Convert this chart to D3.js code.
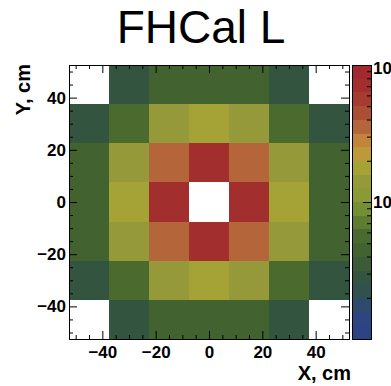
<!DOCTYPE html>
<html>
<head>
<meta charset="utf-8">
<script src="https://cdn.jsdelivr.net/npm/d3@7"></script>
<style>
  body { margin: 0; background: #fff; }
  svg { display: block; font-family: 'Liberation Sans', Arial, sans-serif; }
</style>
</head>
<body>
<script>
// bin edges (cm) and cell contents, top row first
const xEdges = [-52.5, -37.5, -22.5, -7.5, 7.5, 22.5, 37.5, 52.5];
const yEdges = [52.5, 37.5, 22.5, 7.5, -7.5, -22.5, -37.5, -52.5];
const counts = [
    [null,  28,  40,  40,  40,  28, null],
    [  28,  52, 150, 175, 130,  52,   28],
    [  40, 130, 360, 750, 360, 130,   40],
    [  40, 170, 750, null, 750, 170,  40],
    [  40, 130, 360, 750, 360, 130,   40],
    [  28,  52, 150, 175, 130,  52,   28],
    [null,  28,  40,  40,  40,  28, null]
];
const xTicks = [-40, -20, 0, 20, 40];
const yTicks = [-40, -20, 0, 20, 40];
const minorTicks = d3.range(-50, 51, 5).filter(v => v % 20 !== 0);
const zRange = [10, 1000];
const zMajor = [10, 100, 1000];
const zLabelled = [100, 1000];
const zMinor = [20, 30, 40, 50, 60, 70, 80, 90, 200, 300, 400, 500, 600, 700, 800, 900];

// 20 contour colours, lowest first
const palette = [
    '#2d4484', '#2e4680', '#2f4b6c', '#31514e', '#33553f',
    '#3b5c36', '#42622f', '#4b6b2e', '#5f7d30', '#768f32',
    '#8a9a35', '#96993a', '#a6a336', '#bb9a3a', '#c2843c',
    '#b4663a', '#ab4f34', '#a63b30', '#a32e2e', '#a2292d'
];

const W = 391, H = 386;
const frame = { left: 69, right: 349, top: 65, bottom: 339 };
const bar = { left: 352, right: 371 };

const svg = d3.select('body').append('svg')
    .attr('width', W)
    .attr('height', H);

const x = d3.scaleLinear().domain([xEdges[0], xEdges[xEdges.length - 1]]).range([frame.left, frame.right]);
const y = d3.scaleLinear().domain([yEdges[yEdges.length - 1], yEdges[0]]).range([frame.bottom, frame.top]);
const zNorm = d3.scaleLog().domain(zRange).range([0, palette.length]);
const zPos = d3.scaleLog().domain(zRange).range([frame.bottom, frame.top]);

const colorOf = v => palette[Math.max(0, Math.min(palette.length - 1, Math.floor(zNorm(v))))];

// cells
const cells = [];
counts.forEach((row, r) => row.forEach((v, c) => {
    if (v != null) cells.push({ r, c, v });
}));

svg.append('g')
    .selectAll('rect')
    .data(cells)
    .enter()
    .append('rect')
        .attr('x', d => x(xEdges[d.c]))
        .attr('y', d => y(yEdges[d.r]))
        .attr('width', d => x(xEdges[d.c + 1]) - x(xEdges[d.c]))
        .attr('height', d => y(yEdges[d.r + 1]) - y(yEdges[d.r]))
        .attr('fill', d => colorOf(d.v))
        .attr('shape-rendering', 'crispEdges');

// axes, ROOT style: ticks pointing inwards on all four sides
function styleAxis(g) {
    g.selectAll('text')
        .attr('font-size', '17px')
        .attr('font-weight', 'bold')
        .attr('fill', '#000')
        .attr('font-family', "'Liberation Sans', Arial, sans-serif");
    g.selectAll('line, path').attr('stroke', '#000');
}

function addAxes(axisFn, translate, major, withLabels) {
    svg.append('g')
        .attr('transform', translate)
        .call(axisFn(major === 'x' ? x : y).tickValues(minorTicks).tickSize(-4).tickSizeOuter(0).tickFormat(''))
        .call(styleAxis);
    const a = axisFn(major === 'x' ? x : y)
        .tickValues(major === 'x' ? xTicks : yTicks)
        .tickSize(-8)
        .tickSizeOuter(0)
        .tickPadding(major === 'x' ? 7 : 3);
    if (!withLabels) a.tickFormat('');
    svg.append('g')
        .attr('transform', translate)
        .call(a)
        .call(styleAxis);
}

addAxes(d3.axisBottom, `translate(0,${frame.bottom})`, 'x', true);
addAxes(d3.axisTop, `translate(0,${frame.top})`, 'x', false);
addAxes(d3.axisLeft, `translate(${frame.left},0)`, 'y', true);
addAxes(d3.axisRight, `translate(${frame.right},0)`, 'y', false);

// colour palette
const levels = d3.range(palette.length);
svg.append('g')
    .selectAll('rect')
    .data(levels)
    .enter()
    .append('rect')
        .attr('x', bar.left)
        .attr('width', bar.right - bar.left)
        .attr('y', k => zPos(zNorm.invert(k + 1)))
        .attr('height', k => zPos(zNorm.invert(k)) - zPos(zNorm.invert(k + 1)))
        .attr('fill', k => palette[k])
        .attr('shape-rendering', 'crispEdges');

svg.append('rect')
    .attr('x', bar.left)
    .attr('y', frame.top)
    .attr('width', bar.right - bar.left)
    .attr('height', frame.bottom - frame.top)
    .attr('fill', 'none')
    .attr('stroke', '#000')
    .attr('shape-rendering', 'crispEdges');

svg.append('g')
    .attr('transform', `translate(${bar.right},0)`)
    .call(d3.axisRight(zPos).tickValues(zMinor).tickSize(-4).tickSizeOuter(0).tickFormat(''))
    .call(styleAxis);

const zAxis = svg.append('g')
    .attr('transform', `translate(${bar.right},0)`)
    .call(d3.axisRight(zPos).tickValues(zMajor).tickSize(-8).tickSizeOuter(0).tickPadding(2)
        .tickFormat(d => zLabelled.includes(d) ? '10' : ''))
    .call(styleAxis);

zAxis.selectAll('.tick text')
    .filter(d => zLabelled.includes(d))
    .attr('dy', d => d === zRange[1] ? '0.5em' : '0.32em')
    .append('tspan')
        .attr('dy', '-0.55em')
        .attr('font-size', '12px')
        .text(d => Math.round(Math.log10(d)));

// titles
svg.append('text')
    .attr('x', 201)
    .attr('y', 43)
    .attr('text-anchor', 'middle')
    .attr('font-size', '46px')
    .text('FHCal L');

svg.append('text')
    .attr('x', frame.right + 2)
    .attr('y', 380)
    .attr('text-anchor', 'end')
    .attr('font-size', '20px')
    .attr('font-weight', 'bold')
    .text('X, cm');

svg.append('text')
    .attr('transform', `translate(30,${frame.top - 1}) rotate(-90)`)
    .attr('text-anchor', 'end')
    .attr('font-size', '20px')
    .attr('font-weight', 'bold')
    .text('Y, cm');
</script>
</body>
</html>
